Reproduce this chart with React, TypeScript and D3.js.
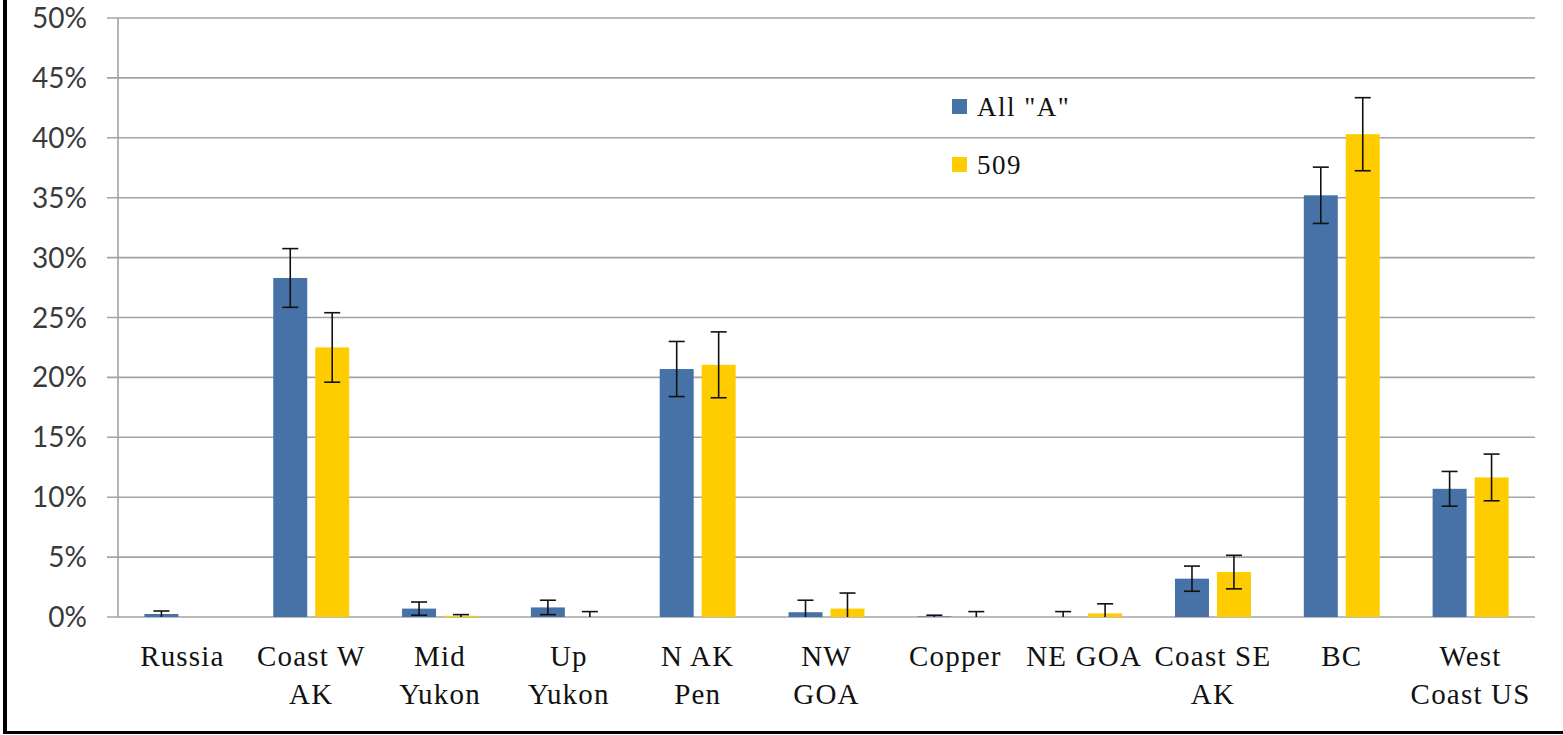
import * as d3 from 'd3';

const categories = [
  'Russia',
  'Coast W\nAK',
  'Mid\nYukon',
  'Up\nYukon',
  'N AK\nPen',
  'NW\nGOA',
  'Copper',
  'NE GOA',
  'Coast SE\nAK',
  'BC',
  'West\nCoast US',
];

const seriesNames = ['All "A"', '509'];
const seriesColors = ['#4672a8', '#ffcc00'];

// percent values
const allA = [0.25, 28.3, 0.7, 0.8, 20.7, 0.4, 0.05, 0, 3.2, 35.2, 10.7];
const allAErr = [0.25, 2.45, 0.55, 0.6, 2.3, 1.0, 0.1, 0.45, 1.05, 2.35, 1.45];
const s509 = [0, 22.5, 0.1, 0, 21.05, 0.7, 0, 0.3, 3.75, 40.3, 11.65];
const s509Err = [0, 2.9, 0.1, 0.45, 2.75, 1.3, 0.45, 0.8, 1.4, 3.05, 1.95];

const yTicks = [0, 5, 10, 15, 20, 25, 30, 35, 40, 45, 50];

const W = 1563;
const H = 735;
const LEFT = 118;
const RIGHT = 1535;
const TOP = 18;
const BOTTOM = 617;

export default function App() {
  const x = d3.scaleBand<string>().domain(categories).range([LEFT, RIGHT]);
  const x1 = d3
    .scaleBand<string>()
    .domain(seriesNames)
    .range([0, x.bandwidth()])
    .paddingInner(0.19)
    .paddingOuter(0.63);
  const y = d3.scaleLinear().domain([0, 50]).range([BOTTOM, TOP]);

  const series = [
    { name: seriesNames[0], values: allA, errs: allAErr, color: seriesColors[0] },
    { name: seriesNames[1], values: s509, errs: s509Err, color: seriesColors[1] },
  ];

  return (
    <svg
      width={W}
      height={H}
      style={{ position: 'absolute', left: 0, top: 0, background: '#fff' }}
    >
      {/* gridlines + ticks */}
      {yTicks.map((t) => (
        <g key={t}>
          <line
            x1={LEFT - 11}
            x2={RIGHT}
            y1={y(t)}
            y2={y(t)}
            stroke="#a3a3a3"
            strokeWidth={1.6}
          />
          <text
            x={87}
            y={y(t)}
            dy="0.36em"
            textAnchor="end"
            fontFamily="Lato, 'Open Sans', sans-serif"
            fontSize={28}
            fill="#3a3a3a"
          >
            {t}%
          </text>
        </g>
      ))}
      <line x1={LEFT} x2={LEFT} y1={TOP} y2={BOTTOM} stroke="#a3a3a3" strokeWidth={1.6} />

      {/* bars */}
      {series.map((s) =>
        categories.map((c, i) => {
          const bx = (x(c) ?? 0) + (x1(s.name) ?? 0);
          const v = s.values[i];
          return v > 0 ? (
            <rect
              key={s.name + c}
              x={bx}
              y={y(v)}
              width={x1.bandwidth()}
              height={y(0) - y(v)}
              fill={s.color}
            />
          ) : null;
        }),
      )}

      {/* error bars */}
      {series.map((s) =>
        categories.map((c, i) => {
          const err = s.errs[i];
          if (err <= 0) return null;
          const cx = (x(c) ?? 0) + (x1(s.name) ?? 0) + x1.bandwidth() / 2;
          const v = s.values[i];
          const hi = y(v + err);
          const lo = y(Math.max(0, v - err));
          return (
            <g key={'e' + s.name + c} stroke="#111" strokeWidth={1.6}>
              <line x1={cx} x2={cx} y1={hi} y2={lo} />
              <line x1={cx - 8} x2={cx + 8} y1={hi} y2={hi} />
              {v - err > 0 && <line x1={cx - 8} x2={cx + 8} y1={lo} y2={lo} />}
            </g>
          );
        }),
      )}

      {/* category labels */}
      {categories.map((c) => {
        const cx = (x(c) ?? 0) + x.bandwidth() / 2;
        return (
          <text
            key={'l' + c}
            textAnchor="middle"
            fontFamily="'Liberation Serif', 'Times New Roman', serif"
            fontSize={29}
            letterSpacing={1.2}
            fill="#111"
          >
            {c.split('\n').map((line, k) => (
              <tspan key={k} x={cx} y={666 + k * 38}>
                {line}
              </tspan>
            ))}
          </text>
        );
      })}

      {/* legend */}
      {series.map((s, i) => (
        <g key={'lg' + s.name} transform={`translate(952, ${99 + i * 58})`}>
          <rect width={15} height={15} fill={s.color} />
          <text
            x={25}
            y={7.5}
            dy="0.36em"
            fontFamily="'Liberation Serif', 'Times New Roman', serif"
            fontSize={27}
            letterSpacing={1.5}
            fill="#111"
          >
            {s.name}
          </text>
        </g>
      ))}

      {/* frame edges */}
      <rect x={3} y={0} width={4} height={734} fill="#000" />
      <rect x={3} y={731} width={W - 3} height={3} fill="#000" />
    </svg>
  );
}
